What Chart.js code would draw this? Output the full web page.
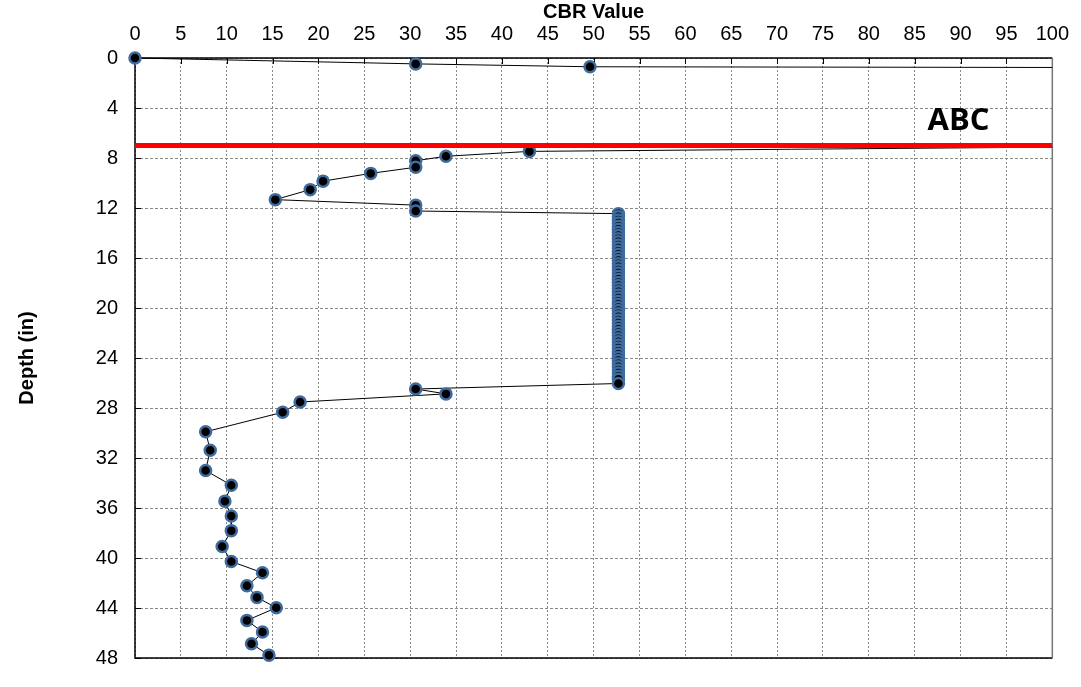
<!DOCTYPE html>
<html>
<head>
<meta charset="UTF-8">
<title>CBR Value vs Depth</title>
<script src="https://cdn.jsdelivr.net/npm/chart.js"></script>
<style>
    html, body { margin: 0; padding: 0; background: #fff; }
    #wrap { width: 1081px; height: 687px; }
</style>
</head>
<body>
<div id="wrap"><canvas id="cbrChart" width="1081" height="687"></canvas></div>
<script>
    // DCP profile: CBR value at each test depth (in)
    var cbrValues = [
        0, 30.6, 49.6, 1000, 43.0, 33.9, 30.6, 30.6, 25.7, 20.5, 19.1, 15.3, 30.6, 30.6,
        52.7, 52.7, 52.7, 52.7, 52.7, 52.7, 52.7, 52.7, 52.7, 52.7, 52.7, 52.7, 52.7, 52.7,
        52.7, 52.7, 52.7, 52.7, 52.7, 52.7, 52.7, 52.7, 52.7, 52.7, 52.7, 52.7, 52.7, 52.7,
        52.7, 52.7, 52.7, 52.7, 52.7, 52.7, 52.7, 52.7, 52.7, 52.7, 52.7, 52.7, 52.7, 52.7,
        52.7, 52.7, 52.7, 52.7, 52.7, 52.7, 52.7, 52.7, 52.7, 52.7, 52.7, 52.7, 52.7,
        30.6, 33.9, 18.0, 16.1, 7.7, 8.2, 7.7, 10.5, 9.8, 10.5, 10.5, 9.5, 10.5,
        13.9, 12.2, 13.3, 15.4, 12.2, 13.9, 12.7, 14.6
    ];
    var depthValues = [
        0, 0.47, 0.7, 1.8, 7.47, 7.86, 8.22, 8.74, 9.23, 9.85, 10.53, 11.33, 11.77, 12.24,
        12.45, 12.7, 12.95, 13.2, 13.45, 13.7, 13.95, 14.2, 14.45, 14.7, 14.95, 15.2, 15.45, 15.7,
        15.95, 16.2, 16.45, 16.7, 16.95, 17.2, 17.45, 17.7, 17.95, 18.2, 18.45, 18.7, 18.95, 19.2,
        19.45, 19.7, 19.95, 20.2, 20.45, 20.7, 20.95, 21.2, 21.45, 21.7, 21.95, 22.2, 22.45, 22.7,
        22.95, 23.2, 23.45, 23.7, 23.95, 24.2, 24.45, 24.7, 24.95, 25.2, 25.45, 25.7, 26.04,
        26.48, 26.87, 27.52, 28.34, 29.9, 31.38, 33.0, 34.18, 35.45, 36.64, 37.81, 39.08, 40.28,
        41.18, 42.22, 43.15, 43.98, 44.99, 45.92, 46.86, 47.77
    ];

    var xTicks = [0, 5, 10, 15, 20, 25, 30, 35, 40, 45, 50, 55, 60, 65, 70, 75, 80, 85, 90, 95, 100];
    var yTicks = [0, 4, 8, 12, 16, 20, 24, 28, 32, 36, 40, 44, 48];

    // layer boundary
    var layerName = 'ABC';
    var layerDepth = 7;
    var layerSpan = [0, 100];

    var profile = cbrValues.map(function (v, i) { return { x: v, y: depthValues[i] }; });
    var layerLine = layerSpan.map(function (v) { return { x: v, y: layerDepth }; });

    var tickFont = { family: 'Liberation Sans', size: 20 };
    var titleFont = { family: 'Liberation Sans', size: 20, weight: 'bold' };

    // plot frame + short inside tick marks, drawn under the data
    var framePlugin = {
        id: 'frame',
        beforeDatasetsDraw: function (chart) {
            var a = chart.chartArea, ctx = chart.ctx;
            var xs = chart.scales.x, ys = chart.scales.y;
            ctx.save();
            ctx.lineWidth = 1;
            ctx.strokeStyle = '#000';
            ctx.beginPath();
            xTicks.forEach(function (v) {
                var px = Math.round(xs.getPixelForValue(v)) + 0.5;
                ctx.moveTo(px, a.top); ctx.lineTo(px, a.top + 6);
            });
            yTicks.forEach(function (v) {
                var py = Math.round(ys.getPixelForValue(v)) + 0.5;
                ctx.moveTo(a.left, py); ctx.lineTo(a.left + 6, py);
            });
            ctx.stroke();
            ctx.lineWidth = 1.5;
            ctx.beginPath();
            ctx.moveTo(a.right, a.top); ctx.lineTo(a.left, a.top);
            ctx.lineTo(a.left, a.bottom); ctx.lineTo(a.right, a.bottom);
            ctx.stroke();
            ctx.strokeStyle = '#777';
            ctx.beginPath();
            ctx.moveTo(a.right, a.top); ctx.lineTo(a.right, a.bottom);
            ctx.stroke();
            ctx.restore();
        },
        afterDraw: function (chart) {
            var ctx = chart.ctx;
            ctx.save();
            ctx.font = 'bold 31px "Open Sans"';
            ctx.fillStyle = '#000';
            ctx.textAlign = 'left';
            ctx.textBaseline = 'alphabetic';
            ctx.fillText(layerName, chart.scales.x.getPixelForValue(86.4), chart.scales.y.getPixelForValue(5.76));
            ctx.restore();
        }
    };

    var ctx = document.getElementById('cbrChart').getContext('2d');
    var cbrChart = new Chart(ctx, {
        type: 'scatter',
        data: {
            datasets: [{
                label: layerName,
                data: layerLine,
                showLine: true,
                borderColor: '#ff0000',
                borderWidth: 5,
                pointRadius: 0,
                clip: 0
            }, {
                label: 'CBR',
                data: profile,
                showLine: true,
                borderColor: '#000',
                borderWidth: 1,
                tension: 0,
                pointRadius: 5.5,
                pointBorderWidth: 2.5,
                pointBackgroundColor: '#000',
                pointBorderColor: '#3f6b9e',
                // markers may sit on the axes; the line past x = 100 stays cut at the frame
                clip: { left: 10, top: 10, right: 0, bottom: 10 }
            }]
        },
        options: {
            responsive: false,
            animation: false,
            devicePixelRatio: 1,
            layout: { padding: { left: 0, top: 0, right: 28, bottom: 12 } },
            plugins: {
                legend: { display: false },
                tooltip: { enabled: false }
            },
            scales: {
                x: {
                    type: 'linear',
                    position: 'top',
                    min: 0,
                    max: 100,
                    afterBuildTicks: function (s) { s.ticks = xTicks.map(function (v) { return { value: v }; }); },
                    afterFit: function (s) { s.height = 58; },
                    title: { display: true, text: 'CBR Value', color: '#000', font: titleFont, padding: { top: 0, bottom: 0 } },
                    ticks: { color: '#000', font: tickFont, padding: 12, maxRotation: 0, autoSkip: false },
                    grid: { color: '#8a8a8a', lineWidth: 1, drawTicks: false },
                    border: { display: false, dash: [2, 2] }
                },
                y: {
                    type: 'linear',
                    reverse: true,
                    min: 0,
                    max: 48,
                    afterBuildTicks: function (s) { s.ticks = yTicks.map(function (v) { return { value: v }; }); },
                    afterFit: function (s) { s.width = 135; },
                    title: { display: true, text: 'Depth (in)', color: '#000', font: titleFont, padding: { top: 15, bottom: 0 } },
                    ticks: { color: '#000', font: tickFont, padding: 17, autoSkip: false },
                    grid: { color: '#8a8a8a', lineWidth: 1, drawTicks: false },
                    border: { display: false, dash: [3, 2] }
                }
            }
        },
        plugins: [framePlugin]
    });
</script>
</body>
</html>
